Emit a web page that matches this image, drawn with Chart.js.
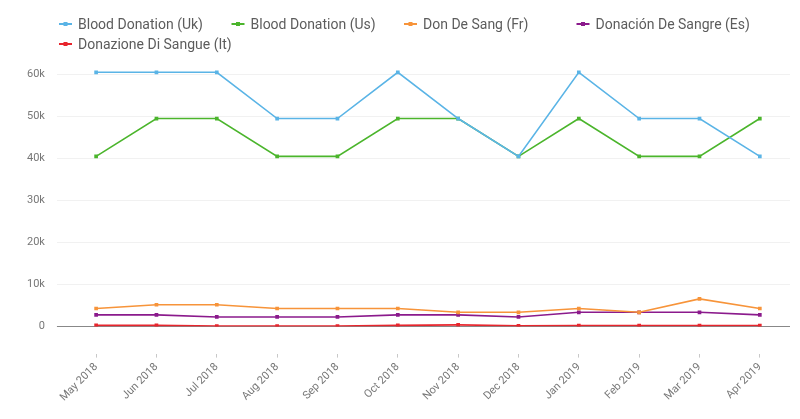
<!DOCTYPE html>
<html>
<head>
<meta charset="utf-8">
<script src="https://cdn.jsdelivr.net/npm/chart.js@4/dist/chart.umd.min.js"></script>
<style>
  html, body { margin: 0; padding: 0; background: #fff; }
  #wrap { width: 800px; height: 419px; position: relative; }
</style>
</head>
<body>
<div id="wrap"><canvas id="donationChart"></canvas></div>
<script>
// months on the x axis
const months = ['May 2018', 'Jun 2018', 'Jul 2018', 'Aug 2018', 'Sep 2018', 'Oct 2018',
                'Nov 2018', 'Dec 2018', 'Jan 2019', 'Feb 2019', 'Mar 2019', 'Apr 2019'];

// values
const ukValues = [60500, 60500, 60500, 49500, 49500, 60500, 49500, 40500, 60500, 49500, 49500, 40500];
const usValues = [40500, 49500, 49500, 40500, 40500, 49500, 49500, 40500, 49500, 40500, 40500, 49500];
const frValues = [4300, 5200, 5200, 4300, 4300, 4300, 3400, 3400, 4300, 3400, 6600, 4300];
const esValues = [2800, 2800, 2300, 2300, 2300, 2800, 2800, 2300, 3400, 3400, 3400, 2800];
const itValues = [300, 300, 150, 150, 150, 300, 400, 200, 250, 250, 250, 250];

const seriesNames = ['Blood Donation (Uk)', 'Blood Donation (Us)', 'Don De Sang (Fr)',
                     'Donación De Sangre (Es)', 'Donazione Di Sangue (It)'];
const seriesColors = ['#5ab4e6', '#4bb52c', '#f7943a', '#8b1a8c', '#e8252d'];
const yTicks = [0, 10000, 20000, 30000, 40000, 50000, 60000];

const allValues = [ukValues, usValues, frValues, esValues, itValues];

// legend laid out in fixed columns like the original
const columnLegend = {
    id: 'columnLegend',
    afterDraw(chart) {
        const ctx = chart.ctx;
        ctx.save();
        ctx.font = "14px Roboto";
        ctx.textBaseline = 'middle';
        chart.data.datasets.forEach((ds, i) => {
            const x = 59 + (i % 4) * 172.5;
            const y = 24 + Math.floor(i / 4) * 20;
            ctx.strokeStyle = ds.borderColor;
            ctx.lineWidth = 2;
            ctx.beginPath();
            ctx.moveTo(x, y);
            ctx.lineTo(x + 13, y);
            ctx.stroke();
            ctx.fillStyle = ds.borderColor;
            ctx.fillRect(x + 4.5, y - 2, 4, 4);
            ctx.fillStyle = '#5c5c5c';
            ctx.fillText(ds.label, x + 19, y + 1);
        });
        ctx.restore();
    }
};

Chart.defaults.font.family = "Roboto, sans-serif";

new Chart(document.getElementById('donationChart'), {
    type: 'line',
    data: {
        labels: months,
        datasets: allValues.map((vals, i) => ({
            label: seriesNames[i],
            data: vals,
            borderColor: seriesColors[i],
            backgroundColor: seriesColors[i],
            borderWidth: 1.6,
            tension: 0,
            pointStyle: 'rect',
            pointRadius: 2.6,
            pointBorderWidth: 0
        }))
    },
    options: {
        responsive: true,
        maintainAspectRatio: false,
        animation: false,
        layout: { padding: { left: 15, right: 10, top: 66, bottom: 12 } },
        plugins: {
            legend: { display: false },
            tooltip: { enabled: false }
        },
        scales: {
            x: {
                offset: true,
                border: { display: false },
                grid: {
                    drawOnChartArea: false,
                    tickLength: 31,
                    tickColor: '#c8c8c8',
                    tickBorderDash: [0, 27, 4]
                },
                ticks: {
                    autoSkip: false,
                    maxRotation: 45,
                    minRotation: 45,
                    padding: 3,
                    color: '#777',
                    font: { size: 11 }
                }
            },
            y: {
                min: 0,
                max: 62000,
                border: { display: false },
                afterBuildTicks: axis => {
                    axis.ticks = yTicks.map(v => ({ value: v }));
                },
                grid: {
                    tickLength: 9,
                    color: c => (c.tick && c.tick.value === 0) ? '#888' : '#f1f1f1'
                },
                ticks: {
                    padding: 12,
                    color: '#777',
                    font: { size: 11 },
                    callback: v => v === 0 ? '0' : (v / 1000) + 'k'
                }
            }
        }
    },
    plugins: [columnLegend]
});
</script>
</body>
</html>
